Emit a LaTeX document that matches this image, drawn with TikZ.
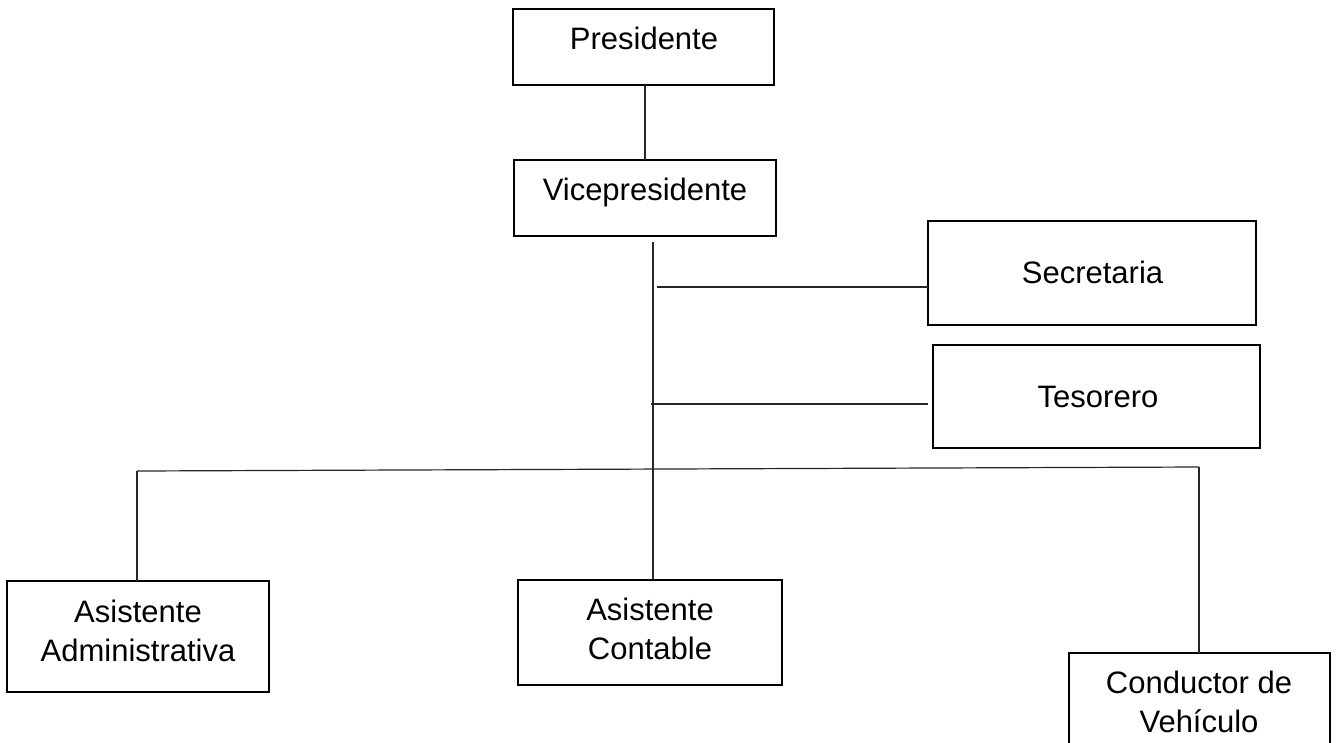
\documentclass[tikz,border=0pt]{standalone}
\usepackage{fontspec}
\setmainfont{Liberation Sans}
\tikzset{
  orgbox/.style={draw=black, line width=2.8pt, rectangle, inner sep=0pt, outer sep=0pt, fill=none},
  orgtxt/.style={inner sep=0pt, outer sep=0pt, align=center, font=\fontsize{31pt}{39pt}\selectfont},
  conn/.style={draw=black!85, line width=1.2pt}
}
\begin{document}
\begin{tikzpicture}[x=1pt, y=-1pt]
\useasboundingbox (0,0) rectangle (1340,742);
\fill[white] (0,0) rectangle (1340,742);
\begin{scope}
\clip (0,0) rectangle (1340,742);
% boxes
\node[orgbox, minimum width=261pt, minimum height=76pt] (pres) at (643.5,47) {};
\node[orgbox, minimum width=262pt, minimum height=76pt] (vice) at (645,198) {};
\node[orgbox, minimum width=328pt, minimum height=104pt] (sec) at (1092,273) {};
\node[orgbox, minimum width=327pt, minimum height=103pt] (tes) at (1096.5,396.5) {};
\node[orgbox, minimum width=262pt, minimum height=111pt] (admin) at (138,636.5) {};
\node[orgbox, minimum width=264pt, minimum height=105pt] (cont) at (650,632.5) {};
\node[orgbox, minimum width=261pt, minimum height=116pt] (cond) at (1199.5,711) {};
% texts
\node[orgtxt, anchor=base] (presT) at (644,49) {Presidente};
\node[orgtxt, anchor=base] (viceT) at (645,200) {Vicepresidente};
\node[orgtxt, anchor=base] (secT) at (1092.5,283) {Secretaria};
\node[orgtxt, anchor=base] (tesT) at (1098,407) {Tesorero};
\node[orgtxt] (adminT) at (138,630.5) {Asistente\\Administrativa};
\node[orgtxt] (contT) at (650,629) {Asistente\\Contable};
\node[orgtxt] (condT) at (1199,702) {Conductor de\\Vehículo};
% connector points
\coordinate (trTop) at (653,242);
\coordinate (secJ) at (657,287);
\coordinate (tesJ) at (651,404);
\coordinate (tesE) at (928,404);
\coordinate (hL) at (137,471);
\coordinate (hR) at (1199,467);
% connectors
\draw[conn] (vice.north) -- (vice.north |- pres.south);
\draw[conn] (trTop) -- (trTop |- cont.north);
\draw[conn] (secJ) -- (secJ -| sec.west);
\draw[conn] (tesJ) -- (tesE);
\draw[conn] (hL) -- (hR);
\draw[conn] (hL) -- (hL |- admin.north);
\draw[conn] (hR) -- (hR |- cond.north);
\end{scope}
\end{tikzpicture}
\end{document}
